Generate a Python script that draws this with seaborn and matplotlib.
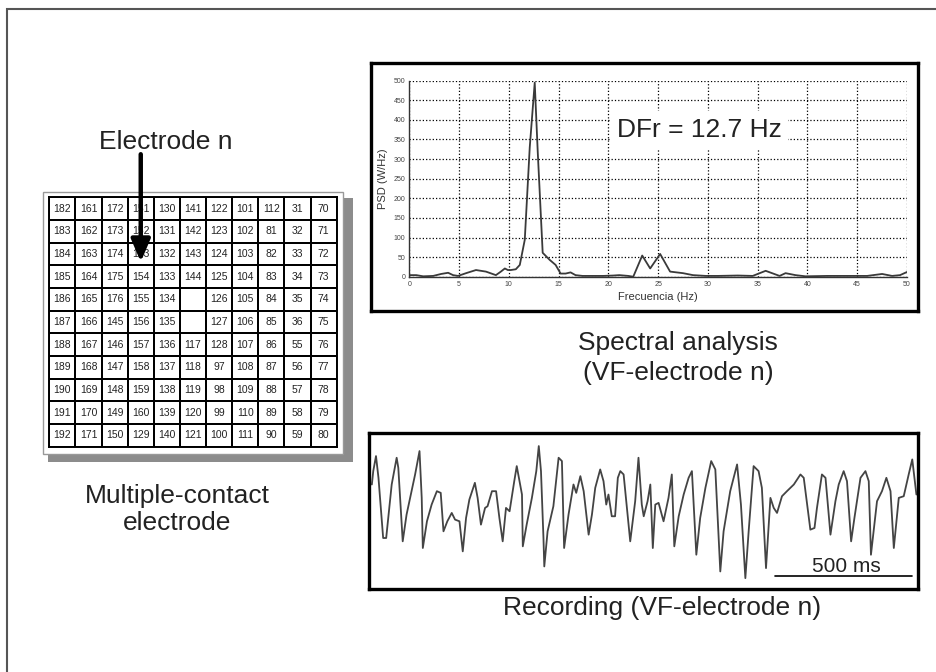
import numpy as np
import pandas as pd
import matplotlib
matplotlib.use("Agg")
import matplotlib.pyplot as plt
from matplotlib.colors import ListedColormap
from matplotlib.patches import Rectangle
import seaborn as sns

# electrode numbers of the multiple-contact plaque (11 x 11), blanks are None
electrode_rows = [
    [182, 161, 172, 151, 130, 141, 122, 101, 112, 31, 70],
    [183, 162, 173, 152, 131, 142, 123, 102, 81, 32, 71],
    [184, 163, 174, 153, 132, 143, 124, 103, 82, 33, 72],
    [185, 164, 175, 154, 133, 144, 125, 104, 83, 34, 73],
    [186, 165, 176, 155, 134, None, 126, 105, 84, 35, 74],
    [187, 166, 145, 156, 135, None, 127, 106, 85, 36, 75],
    [188, 167, 146, 157, 136, 117, 128, 107, 86, 55, 76],
    [189, 168, 147, 158, 137, 118, 97, 108, 87, 56, 77],
    [190, 169, 148, 159, 138, 119, 98, 109, 88, 57, 78],
    [191, 170, 149, 160, 139, 120, 99, 110, 89, 58, 79],
    [192, 171, 150, 129, 140, 121, 100, 111, 90, 59, 80],
]
selected_col, selected_row = 3, 2   # electrode n (153)

# spectrum of electrode n
freq_hz = [0, 0.7, 1.4, 2.4, 3.2, 3.9, 4.4, 4.9, 5.7, 6.7, 7.7, 8.7, 9.2, 9.6, 9.9,
           10.2, 10.7, 11.1, 11.6, 12.1, 12.6, 12.9, 13.4, 14.1, 14.7, 15.2, 15.7,
           16.2, 16.7, 17.4, 18.5, 19.5, 20.5, 21.1, 22.0, 22.5, 23.4, 24.2, 25.2,
           26.2, 27.5, 28.5, 29.8, 31, 33, 34.5, 35.8, 37.2, 37.8, 38.8, 39.8, 42,
           44, 46, 47.5, 48.5, 49.3, 50]
psd = [4, 4, 1, 2, 7, 10, 4, 2, 9, 17, 13, 4, 13, 21, 17, 17, 19, 30, 94, 330,
       495, 320, 61, 43, 30, 8, 8, 11, 4, 2, 2, 2, 3, 4, 2, 0, 54, 21, 58, 13,
       9, 4, 2, 2, 3, 2, 15, 2, 9, 4, 1, 2, 2, 2, 7, 2, 4, 12]
dfr_hz = 12.7

# VF recording of electrode n
time_ms = [38, 43, 53, 62, 79, 90, 110, 128, 134, 150, 164, 177, 195, 211, 219, 223,
           238, 255, 274, 288, 298, 312, 328, 340, 356, 368, 380, 392, 412, 422, 434,
           449, 458, 474, 489, 501, 513, 525, 538, 555, 564, 583, 586, 600, 619, 635,
           644, 652, 661, 664, 676, 697, 716, 728, 736, 752, 770, 780, 795, 807, 825,
           837, 849, 867, 879, 889, 897, 909, 921, 931, 940, 952, 964, 976, 994, 1006,
           1018, 1025, 1039, 1049, 1058, 1067, 1079, 1097, 1115, 1127, 1136, 1152,
           1170, 1188, 1200, 1216, 1230, 1249, 1270, 1285, 1303, 1315, 1339, 1364,
           1378, 1394, 1406, 1424, 1442, 1454, 1469, 1485, 1497, 1509, 1527, 1545,
           1570, 1594, 1606, 1630, 1645, 1654, 1672, 1685, 1703, 1721, 1733, 1751,
           1763, 1778, 1790, 1812, 1830, 1842, 1850, 1872, 1890, 1906, 1921, 1933,
           1951, 1969, 1987, 2000, 2015]
amplitude = [0.90, 1.30, 1.75, 1.10, -0.70, -0.70, 0.90, 1.70, 1.40, -0.80, 0.00, 0.50,
             1.20, 1.90, 0.50, -1.00, -0.20, 0.30, 0.70, 0.65, -0.50, -0.20, 0.05,
             -0.15, -0.20, -1.10, -0.10, 0.45, 0.95, 0.50, -0.30, 0.20, 0.25, 0.70,
             0.70, -0.10, -0.80, 0.20, 0.10, 1.00, 1.45, 0.60, -0.95, -0.30, 0.50,
             1.30, 2.05, 1.30, -0.70, -1.55, -0.50, 0.25, 1.70, 1.60, -1.00, 0.00,
             0.90, 0.65, 1.15, 0.70, -0.60, 0.00, 0.80, 1.35, 1.00, 0.30, 0.60, -0.05,
             -0.05, 1.10, 1.30, 1.20, 0.20, -0.80, 0.40, 1.70, 0.30, -0.05, 0.40, 0.90,
             -1.00, 0.30, 0.35, -0.20, 0.50, 1.20, -0.95, -0.05, 0.60, 1.10, 1.30,
             -1.20, -0.10, 0.80, 1.60, 1.35, -1.70, -0.50, 0.70, 1.50, 0.30, -1.90,
             -0.50, 1.45, 1.30, 0.80, -1.60, 0.50, 0.20, 0.05, 0.55, 0.70, 0.90, 1.20,
             1.10, -0.45, -0.40, 0.20, 1.20, 1.10, -0.60, 0.40, 0.90, 1.30, 1.00,
             -0.80, -0.10, 1.10, 1.30, 1.00, -1.20, 0.40, 0.70, 1.10, 0.70, -1.00,
             0.50, 0.55, 1.20, 1.65, 0.60]
scale_bar_ms = [1500, 2000]

sns.set_theme(style="white")
plt.rcParams["font.family"] = ["Liberation Sans", "DejaVu Sans"]

W, H = 936, 672
fig = plt.figure(figsize=(W / 100, H / 100), dpi=100)
fig.patch.set_facecolor("white")


def rect(x0, y0, x1, y1):
    # pixel box -> figure fraction
    return [x0 / W, 1 - y1 / H, (x1 - x0) / W, (y1 - y0) / H]


# outer frame (left and top edges visible)
fig.patches.append(Rectangle((7 / W, -0.05), 1.2, 1.05 - 9 / H, transform=fig.transFigure,
                             fill=False, edgecolor="#555555", lw=1.5, zorder=-2))

# ---- electrode plaque ----
fig.patches.append(Rectangle((48 / W, 1 - 462 / H), 305 / W, 264 / H, transform=fig.transFigure,
                             facecolor="#8c8c8c", edgecolor="none", zorder=-2))
fig.patches.append(Rectangle((43 / W, 1 - 454 / H), 300 / W, 262 / H, transform=fig.transFigure,
                             facecolor="white", edgecolor="#999999", lw=1.0, zorder=-1))

vals = np.array([[np.nan if v is None else v for v in r] for r in electrode_rows], dtype=float)
labels = np.array([["" if v is None else str(v) for v in r] for r in electrode_rows])
mask = np.isnan(vals)

ax_grid = fig.add_axes(rect(49.3, 197.3, 336.7, 446.7))
ax_grid.set_zorder(2)
sns.heatmap(np.nan_to_num(vals), mask=mask, annot=labels, fmt="", cmap=ListedColormap(["white"]),
            cbar=False, linewidths=1.2, linecolor="black", xticklabels=False, yticklabels=False,
            annot_kws=dict(fontsize=7.5, color="#222222"), ax=ax_grid)
ax_grid.set_facecolor("white")
for s in ax_grid.spines.values():
    s.set_visible(True)
    s.set_linewidth(1.4)
    s.set_color("black")

ax_grid.annotate("", xy=(selected_col + 0.5, selected_row + 0.85),
                 xytext=(selected_col + 0.5, selected_row - 3.9),
                 arrowprops=dict(arrowstyle="-|>,head_length=0.75,head_width=0.32",
                                 color="black", lw=3.2, mutation_scale=18,
                                 shrinkA=0, shrinkB=0),
                 annotation_clip=False)

fig.text(166 / W, 1 - 149 / H, "Electrode n", ha="center", va="baseline", fontsize=19, color="#222222")
fig.text(177 / W, 1 - 503 / H, "Multiple-contact", ha="center", va="baseline", fontsize=19, color="#222222")
fig.text(177 / W, 1 - 530 / H, "electrode", ha="center", va="baseline", fontsize=19, color="#222222")

# ---- spectral analysis ----
ax_frame = fig.add_axes(rect(371, 62.5, 917.5, 311))
ax_frame.set_xticks([])
ax_frame.set_yticks([])
for s in ax_frame.spines.values():
    s.set_linewidth(2.4)
    s.set_color("black")

ax_sp = fig.add_axes(rect(409.3, 80.7, 907, 276.7))
ax_sp.patch.set_alpha(0)
sns.lineplot(x=freq_hz, y=psd, ax=ax_sp, color="#3a3a3a", lw=1.3)
ax_sp.set_xlim(0, 50)
ax_sp.set_ylim(0, 500)
ax_sp.set_xticks(range(0, 51, 5))
ax_sp.set_yticks(range(0, 501, 50))
ax_sp.grid(True, linestyle=":", color="black", lw=0.9)
ax_sp.tick_params(labelsize=5, colors="#444444", length=0, pad=3)
for side in ["top", "right"]:
    ax_sp.spines[side].set_visible(False)
for side in ["left", "bottom"]:
    ax_sp.spines[side].set_color("#333333")
    ax_sp.spines[side].set_linewidth(1.0)
ax_sp.set_xlabel("Frecuencia (Hz)", fontsize=8, color="#333333", labelpad=3)
ax_sp.set_ylabel("PSD (W/Hz)", fontsize=8, color="#333333", labelpad=4)

fig.text(699 / W, 1 - 137 / H, f"DFr = {dfr_hz} Hz", ha="center", va="baseline", fontsize=19,
         color="#222222", bbox=dict(boxstyle="square,pad=0.25", facecolor="white", edgecolor="none"))

fig.text(678 / W, 1 - 350 / H, "Spectral analysis", ha="center", va="baseline", fontsize=19, color="#222222")
fig.text(678 / W, 1 - 380 / H, "(VF-electrode n)", ha="center", va="baseline", fontsize=19, color="#222222")

# ---- recording ----
ax_rec = fig.add_axes(rect(369, 433, 917.5, 588.5))
sns.lineplot(x=time_ms, y=amplitude, ax=ax_rec, color="#444444", lw=1.3, sort=False)
ax_rec.set_xlim(27.6, 2019)
ax_rec.set_ylim(-2.21, 2.44)
ax_rec.set_xticks([500, 1000, 1500, 2000])
ax_rec.set_yticks([])
ax_rec.tick_params(axis="x", direction="in", length=5, width=1, colors="#555555", labelbottom=False)
for s in ax_rec.spines.values():
    s.set_linewidth(2.4)
    s.set_color("black")
ax_rec.plot(scale_bar_ms, [-1.85, -1.85], color="black", lw=1.2)
ax_rec.text(1760, -1.72, "500 ms", ha="center", va="baseline", fontsize=15, color="#222222")

fig.text(662 / W, 1 - 615 / H, "Recording (VF-electrode n)", ha="center", va="baseline", fontsize=19,
         color="#222222")

fig.savefig("out.png", dpi=100)
